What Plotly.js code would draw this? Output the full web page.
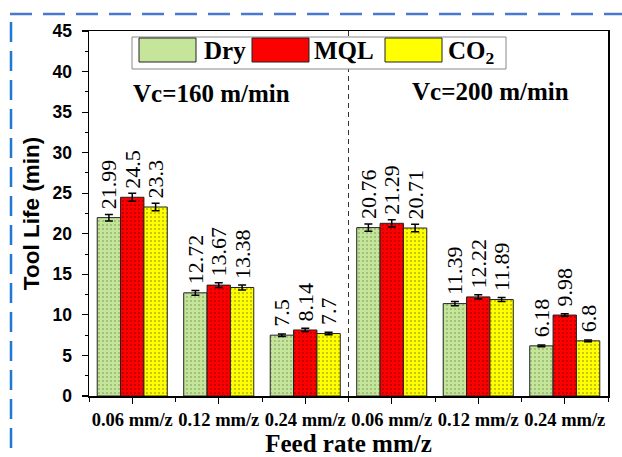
<!DOCTYPE html>
<html>
<head>
<meta charset="utf-8">
<script src="https://cdn.plot.ly/plotly-3.0.1.min.js"></script>
<style>
html,body{margin:0;padding:0;background:#fff;}
#chart{width:622px;height:457px;}
</style>
</head>
<body>
<div id="chart"></div>
<script>
// ---- data ----
const tickLabels = ['0.06 mm/z', '0.12 mm/z', '0.24 mm/z', '0.06 mm/z', '0.12 mm/z', '0.24 mm/z'];
const seriesNames = ['Dry', 'MQL', 'CO<sub>2</sub>'];
const dryValues = [21.99, 12.72, 7.5, 20.76, 11.39, 6.18];
const mqlValues = [24.5, 13.67, 8.14, 21.29, 12.22, 9.98];
const co2Values = [23.3, 13.38, 7.7, 20.71, 11.89, 6.8];
const dryLabels = ['21.99', '12.72', '7.5', '20.76', '11.39', '6.18'];
const mqlLabels = ['24.5', '13.67', '8.14', '21.29', '12.22', '9.98'];
const co2Labels = ['23.3', '13.38', '7.7', '20.71', '11.89', '6.8'];
const dryErrors = [0.4, 0.3, 0.15, 0.45, 0.25, 0.1];
const mqlErrors = [0.5, 0.3, 0.2, 0.45, 0.25, 0.15];
const co2Errors = [0.45, 0.3, 0.15, 0.45, 0.25, 0.1];
const speedLabels = ['Vc=160 m/min', 'Vc=200 m/min'];

const xIdx = tickLabels.map((_, i) => i);
const serif = 'Liberation Serif, Times New Roman, serif';
const sans = 'Liberation Sans, Arial, sans-serif';
const colors = ['#c5e69a', '#ff0000', '#ffff00'];
const dotColors = ['#6f8f4f', '#7a0000', '#7a7a00'];

function barTrace(vals, labels, errs, k) {
  return {
    type: 'bar', x: xIdx, y: vals, name: seriesNames[k],
    text: labels.map(s => '\u00a0' + s), textposition: 'outside', textangle: -90,
    constraintext: 'none', cliponaxis: false,
    textfont: {family: serif, size: 22, color: '#000'},
    marker: {
      color: colors[k],
      line: {color: '#222', width: 1},
      pattern: {shape: '.', bgcolor: colors[k], fgcolor: dotColors[k], size: 4, solidity: 0.12, fillmode: 'replace'}
    },
    error_y: {type: 'data', array: errs, visible: true, color: '#000', thickness: 1.5, width: 4},
    showlegend: false, hoverinfo: 'skip'
  };
}

const data = [
  barTrace(dryValues, dryLabels, dryErrors, 0),
  barTrace(mqlValues, mqlLabels, mqlErrors, 1),
  barTrace(co2Values, co2Labels, co2Errors, 2)
];

// paper helpers for legend decoration (plot area: x 89..608, y 31..396 px)
const W = 519, H = 365, L = 89, B = 396;
const px = v => (v - L) / W;
const py = v => (B - v) / H;

const shapes = [
  {type: 'line', xref: 'x', yref: 'y', x0: 2.5, x1: 2.5, y0: 0, y1: 45,
   line: {color: '#333', width: 1, dash: '5px,4px'}},
  {type: 'rect', xref: 'paper', yref: 'paper', x0: px(132), x1: px(506), y0: py(69), y1: py(37),
   fillcolor: '#fff', line: {color: '#888', width: 1}},
  {type: 'rect', xref: 'paper', yref: 'paper', x0: px(139), x1: px(196), y0: py(62), y1: py(38),
   fillcolor: colors[0], line: {color: '#222', width: 1}},
  {type: 'rect', xref: 'paper', yref: 'paper', x0: px(252), x1: px(309), y0: py(62), y1: py(38),
   fillcolor: colors[1], line: {color: '#222', width: 1}},
  {type: 'rect', xref: 'paper', yref: 'paper', x0: px(385), x1: px(442), y0: py(62), y1: py(38),
   fillcolor: colors[2], line: {color: '#222', width: 1}},
  {type: 'line', xref: 'paper', yref: 'paper', x0: px(10), x1: px(622), y0: py(14), y1: py(14),
   line: {color: '#4a78d0', width: 2.5, dash: '22px,11px'}},
  {type: 'line', xref: 'paper', yref: 'paper', x0: px(11), x1: px(11), y0: py(22), y1: py(457),
   line: {color: '#1f78d1', width: 2.5, dash: '20px,9px'}}
];

const annotations = [
  {xref: 'paper', yref: 'paper', x: px(202), y: py(50), xanchor: 'left', yanchor: 'middle', showarrow: false,
   text: seriesNames[0], font: {family: serif, size: 25, color: '#000', weight: 'bold'}},
  {xref: 'paper', yref: 'paper', x: px(312), y: py(50), xanchor: 'left', yanchor: 'middle', showarrow: false,
   text: seriesNames[1], font: {family: serif, size: 25, color: '#000', weight: 'bold'}},
  {xref: 'paper', yref: 'paper', x: px(446), y: py(52), xanchor: 'left', yanchor: 'middle', showarrow: false,
   text: seriesNames[2], font: {family: serif, size: 25, color: '#000', weight: 'bold'}},
  {xref: 'paper', yref: 'paper', x: px(211), y: py(94), xanchor: 'center', yanchor: 'middle', showarrow: false,
   text: speedLabels[0], font: {family: serif, size: 25, color: '#000', weight: 'bold'}},
  {xref: 'paper', yref: 'paper', x: px(490), y: py(91), xanchor: 'center', yanchor: 'middle', showarrow: false,
   text: speedLabels[1], font: {family: serif, size: 25, color: '#000', weight: 'bold'}}
];

const layout = {
  width: 622, height: 457,
  margin: {l: 89, r: 14, t: 31, b: 61},
  paper_bgcolor: '#fff', plot_bgcolor: '#fff',
  barmode: 'group', bargap: 0.19, bargroupgap: 0,
  showlegend: false,
  xaxis: {
    range: [-0.5, 5.5], tickmode: 'array', tickvals: xIdx, ticktext: tickLabels,
    ticks: 'outside', ticklen: 6, tickwidth: 1.2, tickcolor: '#000',
    minor: {tickmode: 'linear', tick0: -0.5, dtick: 1, ticks: 'outside', ticklen: 4, tickcolor: '#000', tickwidth: 1},
    showline: true, linecolor: '#000', linewidth: 1.5, mirror: true,
    showgrid: false, zeroline: false,
    tickfont: {family: serif, size: 18.5, color: '#000', weight: 'bold'},
    title: {text: 'Feed rate mm/z', standoff: 6, font: {family: serif, size: 25, color: '#000', weight: 'bold'}}
  },
  yaxis: {
    range: [0, 45], dtick: 5, tick0: 0,
    ticks: 'outside', ticklen: 6, tickwidth: 1.2, tickcolor: '#000',
    minor: {dtick: 2.5, ticks: 'outside', ticklen: 3, tickcolor: '#000', tickwidth: 1},
    showline: true, linecolor: '#000', linewidth: 1.5, mirror: true,
    showgrid: false, zeroline: false, ticklabelstandoff: 6,
    tickfont: {family: sans, size: 17.5, color: '#000', weight: 'bold'},
    title: {text: 'Tool Life (min)', standoff: 6, font: {family: sans, size: 22.5, color: '#000', weight: 'bold'}}
  },
  xaxis2: {
    overlaying: 'x', side: 'top', range: [0, 10], dtick: 1, tick0: 0,
    ticks: 'inside', ticklen: 5, tickcolor: '#000', showticklabels: false,
    showgrid: false, zeroline: false, showline: false
  },
  yaxis2: {
    overlaying: 'y', side: 'right', range: [0, 45], dtick: 4.5, tick0: 0,
    ticks: 'inside', ticklen: 5, tickcolor: '#000', showticklabels: false,
    showgrid: false, zeroline: false, showline: false
  },
  shapes: shapes,
  annotations: annotations
};

Plotly.newPlot('chart', data, layout, {staticPlot: true, displayModeBar: false});
</script>
</body>
</html>
